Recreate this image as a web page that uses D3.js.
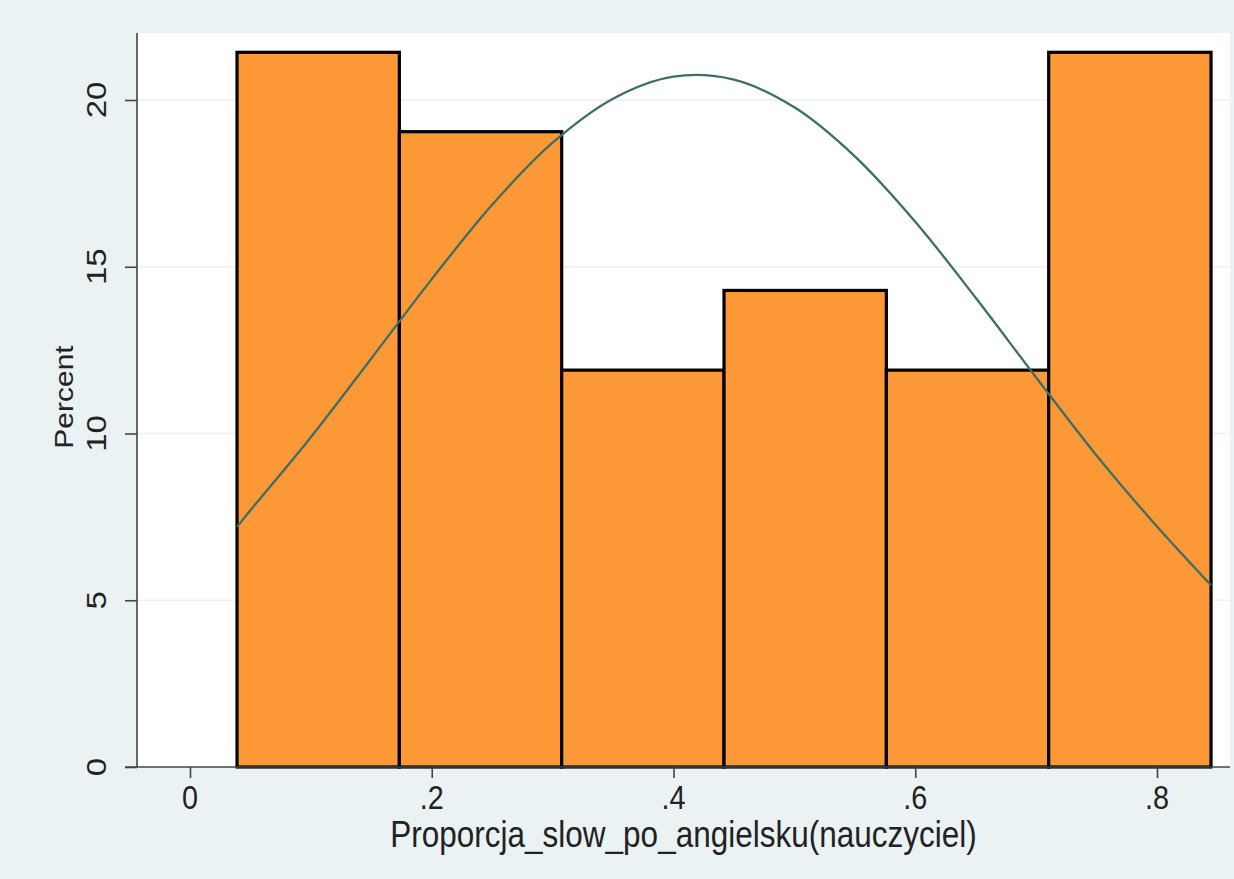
<!DOCTYPE html>
<html>
<head>
<meta charset="utf-8">
<script src="https://cdn.jsdelivr.net/npm/d3@7"></script>
<style>
html,body{margin:0;padding:0;background:#eaf2f3;}
svg{display:block;}
text{font-family:"Liberation Sans",Arial,sans-serif;fill:#222;}
</style>
</head>
<body>
<svg id="chart" width="1234" height="879"></svg>
<script>
// ---- data ----
const binEdges = [0.0389, 0.1732, 0.3075, 0.4418, 0.5761, 0.7104, 0.8447];
const percents = [21.43, 19.05, 11.90, 14.29, 11.90, 21.43];
const curveX = [0.0389, 0.05, 0.10, 0.15, 0.20, 0.25, 0.30, 0.35, 0.40, 0.45, 0.50, 0.55, 0.60, 0.65, 0.70, 0.75, 0.80, 0.8447];
const curveY = [7.20, 7.70, 9.89, 12.25, 14.63, 16.86, 18.72, 20.04, 20.70, 20.61, 19.78, 18.31, 16.35, 14.07, 11.68, 9.34, 7.21, 5.45];
const xTicks = [0, 0.2, 0.4, 0.6, 0.8];
const xTickLabels = ["0", ".2", ".4", ".6", ".8"];
const yTicks = [0, 5, 10, 15, 20];
const xTitle = "Proporcja_slow_po_angielsku(nauczyciel)";
const yTitle = "Percent";

// ---- layout ----
const W = 1234, H = 879;
const plotL = 137, plotR = 1230, plotT = 33, plotB = 767;
const svg = d3.select("#chart");

const x = d3.scaleLinear().domain([0, 0.8]).range([190, 1157]);
const y = d3.scaleLinear().domain([0, 20]).range([767, 100]);

svg.append("rect").attr("width", W).attr("height", H).attr("fill", "#eaf2f3");
svg.append("rect").attr("x", plotL).attr("y", plotT)
  .attr("width", plotR - plotL).attr("height", plotB - plotT).attr("fill", "#ffffff");

// gridlines
svg.append("g").selectAll("line").data(yTicks.filter(d => d > 0)).join("line")
  .attr("x1", plotL).attr("x2", plotR)
  .attr("y1", d => y(d)).attr("y2", d => y(d))
  .attr("stroke", "#eaf2f3").attr("stroke-width", 1.6);

// bars
const bars = percents.map((p, i) => ({x0: binEdges[i], x1: binEdges[i + 1], p}));
svg.append("g").selectAll("rect").data(bars).join("rect")
  .attr("x", d => x(d.x0)).attr("y", d => y(d.p))
  .attr("width", d => x(d.x1) - x(d.x0)).attr("height", d => y(0) - y(d.p))
  .attr("fill", "#fc9835").attr("stroke", "#000").attr("stroke-width", 3.2);

// normal curve
const pts = curveX.map((v, i) => [v, curveY[i]]);
svg.append("path").datum(pts)
  .attr("d", d3.line().x(d => x(d[0])).y(d => y(d[1])).curve(d3.curveCatmullRom.alpha(0.5)))
  .attr("fill", "none").attr("stroke", "#3f6e66").attr("stroke-width", 2.3);

// y axis
const yAxis = svg.append("g").attr("transform", `translate(${plotL},0)`)
  .call(d3.axisLeft(y).tickValues(yTicks).tickSize(12).tickFormat(""));
yAxis.select(".domain").attr("d", `M0,${plotT}V${plotB}`).attr("stroke", "#444").attr("stroke-width", 1.6);
yAxis.selectAll(".tick line").attr("stroke", "#444").attr("stroke-width", 1.6);

// y tick labels (rotated)
svg.append("g").selectAll("g").data(yTicks).join("g")
  .attr("transform", d => `translate(106,${y(d)}) scale(0.82,1) rotate(-90)`)
  .append("text").attr("text-anchor", "middle").attr("font-size", 33).text(d => d);

// x axis
const xAxis = svg.append("g").attr("transform", `translate(0,${plotB})`)
  .call(d3.axisBottom(x).tickValues(xTicks).tickSize(11).tickFormat(""));
xAxis.select(".domain").attr("d", `M${125},0H${plotR}`).attr("stroke", "#444").attr("stroke-width", 1.6);
xAxis.selectAll(".tick line").attr("stroke", "#444").attr("stroke-width", 1.6);

svg.append("g").selectAll("g").data(xTicks).join("g")
  .attr("transform", d => `translate(${x(d)},809) scale(0.86,1)`)
  .append("text").attr("text-anchor", "middle").attr("font-size", 33.5)
  .text((d, i) => xTickLabels[i]);

// titles
svg.append("g").attr("transform", `translate(${(plotL + plotR) / 2},847) scale(0.84,1)`)
  .append("text").attr("text-anchor", "middle").attr("font-size", 37.5).text(xTitle);

svg.append("g").attr("transform", `translate(73,397) scale(0.85,1) rotate(-90)`)
  .append("text").attr("text-anchor", "middle").attr("font-size", 30).text(yTitle);
</script>
</body>
</html>
